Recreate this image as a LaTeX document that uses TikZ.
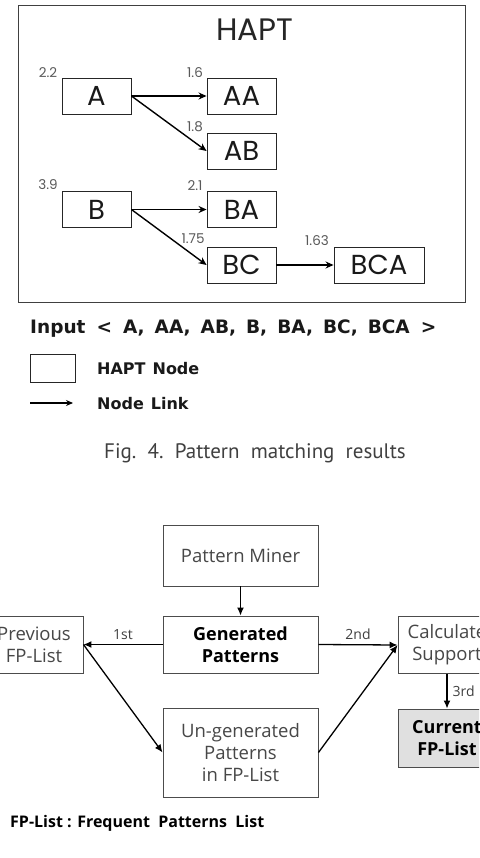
\documentclass[tikz,border=0pt]{standalone}
\usepackage{fontspec}
\setmainfont{Open Sans}
\newfontfamily\geofont{Poppins}
\newfontfamily\capfont{PT Sans}
\newfontfamily\legfont{DejaVu Sans}
\usetikzlibrary{arrows.meta}
\begin{document}
\begin{tikzpicture}[x=1pt,y=-1pt,
  hbox/.style={draw=black!85, line width=0.9pt, minimum width=69pt, minimum height=36pt, inner sep=0pt, text=black!90, font=\geofont\fontsize{27.5}{27.5}\selectfont},
  wt/.style={font=\geofont\fontsize{13.5}{13.5}\selectfont, text=black!65, inner sep=0pt},
  hlink/.style={line width=1.4pt, -{Stealth[length=8pt,width=7pt]}},
  fbox/.style={draw=black!70, line width=0.9pt, minimum width=155pt, inner sep=0pt, align=center, text=black!72, font=\fontsize{18.5}{22}\selectfont},
  sbox/.style={fbox, minimum width=98pt, minimum height=57pt},
  flink/.style={line width=1.3pt, -{Latex[length=8pt,width=7pt]}},
  lab/.style={font=\fontsize{14}{14}\selectfont, text=black!75, inner sep=1pt},
  leg/.style={font=\legfont\bfseries\fontsize{16}{16}\selectfont, text=black!90, inner sep=0pt, anchor=west}
]
\useasboundingbox (0,0) rectangle (479,858);
\clip (0,0) rectangle (479,858);
\fill[white] (0,0) rectangle (479,858);

% ---- top figure ----
\draw[black!75, line width=1pt] (18,6) rectangle (465,302);
\node[font=\geofont\fontsize{31}{31}\selectfont, text=black!85] (title) at (255,30) {HAPT};

\node[hbox] (A) at (96.5,96) {A};
\node[hbox] (AA) at (241.5,96) {AA};
\node[hbox] (AB) at (241.5,151) {AB};
\node[hbox] (B) at (96.5,209.5) {B};
\node[hbox] (BA) at (241.5,209.5) {BA};
\node[hbox] (BC) at (241.5,265) {BC};
\node[hbox, minimum width=90pt] (BCA) at (379,265) {BCA};

\node[wt] (wA) at (48,73) {2.2};
\node[wt] (wAA) at (195,73) {1.6};
\node[wt] (wAB) at (195,127) {1.8};
\node[wt] (wB) at (48,185) {3.9};
\node[wt] (wBA) at (195,186) {2.1};
\node[wt] (wBC) at (193,239) {1.75};
\node[wt] (wBCA) at (317,241) {1.63};

\draw[hlink] (A.east) -- (AA.west);
\draw[hlink] (A.east) -- (AB.west);
\draw[hlink] (B.east) -- (BA.west);
\draw[hlink] (B.east) -- (BC.west);
\draw[hlink] (BC.east) -- (BCA.west);

% ---- legend ----
\node[font=\legfont\bfseries\fontsize{18.5}{18.5}\selectfont, text=black!90, inner sep=0pt, anchor=west] (input) at (30,329) {Input\hspace{11pt}<\hspace{11pt}A,\hspace{10pt}AA,\hspace{10pt}AB,\hspace{10pt}B,\hspace{10pt}BA,\hspace{10pt}BC,\hspace{10pt}BCA\hspace{11pt}>};
\node[draw=black!85, line width=0.9pt, minimum width=45pt, minimum height=28pt, inner sep=0pt] (lbox) at (52.5,368) {};
\node[leg] (lboxt) at (97,369) {HAPT\hspace{7pt}Node};
\coordinate (l1) at (30,403);
\coordinate (l2) at (73,403);
\draw[line width=1.4pt, -{Stealth[length=7pt,width=6pt]}] (l1) -- (l2);
\node[leg] (llinkt) at (97,404) {Node\hspace{7pt}Link};

\node[font=\capfont\fontsize{21}{21}\selectfont, text=black!75, inner sep=0pt] (cap) at (255,453) {Fig.\ \ 4.\ \ Pattern\ \ matching\ \ results};

% ---- bottom figure ----
\node[fbox, minimum height=61pt] (pm) at (240.5,555.5) {Pattern Miner};
\node[fbox, minimum height=57pt, text=black, font=\bfseries\fontsize{18}{22}\selectfont] (gp) at (240.5,644.5) {Generated\\Patterns};
\node[sbox] (prev) at (34,644.5) {Previous\\FP-List};
\node[sbox] (calc) at (447,645) {Calculate\\Support};
\node[sbox, fill=black!12, text=black, font=\bfseries\fontsize{18}{22}\selectfont, minimum height=58pt] (cur) at (447,738) {Current\\FP-List};
\node[fbox, minimum height=89pt] (ung) at (240.5,752.5) {Un-generated\\Patterns\\in FP-List};

\draw[flink] (pm) -- (gp);
\draw[flink] (gp.west) -- node[lab, above=3pt] (l1st) {1st} (prev.east);
\draw[flink] (gp.east) -- node[lab, above=3pt] (l2nd) {2nd} (calc.west);
\draw[flink] (prev.east) -- (ung.west);
\draw[flink] (ung.east) -- (calc.west);
\draw[flink] (calc.south) -- node[lab, right=4pt] (l3rd) {3rd} (cur.north);

\node[font=\bfseries\fontsize{16}{16}\selectfont, inner sep=0pt, anchor=west] (note) at (10,823) {FP-List : Frequent\ \ Patterns\ \ List};
\end{tikzpicture}
\end{document}
